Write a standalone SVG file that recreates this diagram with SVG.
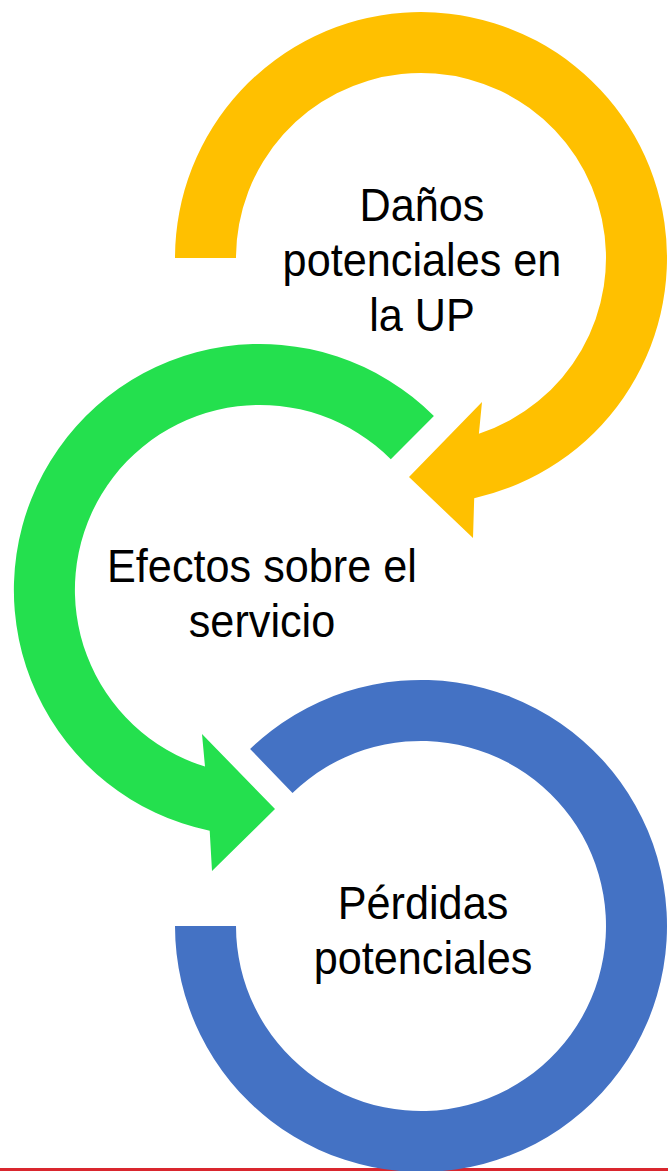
<svg xmlns="http://www.w3.org/2000/svg" width="668" height="1171" viewBox="0 0 668 1171">
<style>
.lbl{font-family:"Liberation Sans",Arial,sans-serif;font-size:47px;fill:#000;text-anchor:middle}
</style>
<rect x="0" y="0" width="668" height="1171" fill="#fff"/>
<rect x="0" y="1168" width="668" height="3" fill="#D9262E"/>
<g id="connectors"></g>
<g id="node-danos">
<path d="M175,258 A246,246 0 1 1 474.2,498.2 L473,538 L409,477 L482,402 L478.9,433.7 A185,185 0 1 0 236,258 Z" fill="#FFC000"/>
<text class="lbl" transform="translate(422,221) scale(0.92,1)">Daños</text>
<text class="lbl" transform="translate(422,276) scale(0.92,1)">potenciales en</text>
<text class="lbl" transform="translate(422,331) scale(0.92,1)">la UP</text>
</g>
<g id="node-efectos">
<path d="M433.9,416.1 A246,246 0 1 0 209.7,830.8 L212,871 L275,809 L202,734 L205,766.6 A185,185 0 1 1 390.8,459.2 Z" fill="#24E04E"/>
<text class="lbl" transform="translate(262,582) scale(0.92,1)">Efectos sobre el</text>
<text class="lbl" transform="translate(262,637) scale(0.92,1)">servicio</text>
</g>
<g id="node-perdidas">
<path d="M175,926 A246,246 0 1 0 250.1,749 L292.5,792.9 A185,185 0 1 1 236,926 Z" fill="#4472C4"/>
<text class="lbl" transform="translate(423,919) scale(0.92,1)">Pérdidas</text>
<text class="lbl" transform="translate(423,974) scale(0.92,1)">potenciales</text>
</g>
</svg>
